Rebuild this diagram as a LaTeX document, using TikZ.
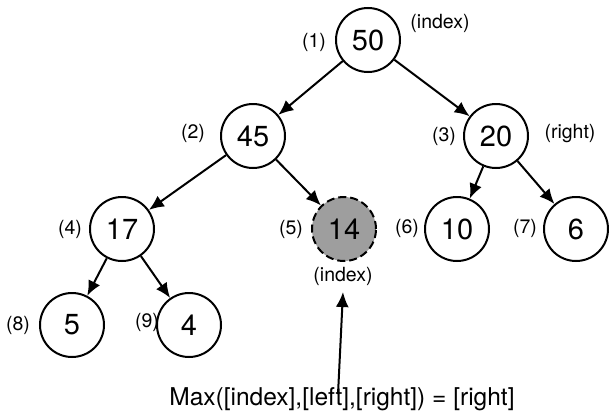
\documentclass[tikz,border=0pt]{standalone}
\usepackage{fontspec}
\setmainfont{TeX Gyre Heros}
\usetikzlibrary{arrows.meta}
\definecolor{nodegray}{RGB}{158,158,158}
\tikzset{
  heapnode/.style={circle, draw=black, line width=2pt, minimum size=64pt, inner sep=0pt, font=\fontsize{29}{31}\selectfont},
  hilite/.style={heapnode, fill=nodegray, dash pattern=on 8pt off 4pt},
  idx/.style={inner sep=0pt, font=\fontsize{19.5}{21}\selectfont},
  edge/.style={line width=2pt, -{Latex[length=15pt,width=13pt]}},
  caption/.style={inner sep=0pt, font=\fontsize{24.5}{27}\selectfont}
}
\begin{document}
\begin{tikzpicture}[x=1pt,y=-1pt]
\useasboundingbox (0,0) rectangle (609,415);
\node[heapnode] (n50) at (368,40) {50};
\node[heapnode] (n45) at (253,136) {45};
\node[heapnode] (n20) at (496,136) {20};
\node[heapnode] (n17) at (122,229) {17};
\node[hilite] (n14) at (344,229) {14};
\node[heapnode] (n10) at (457,229) {10};
\node[heapnode] (n6) at (576,229) {6};
\node[heapnode] (n5) at (72,325) {5};
\node[heapnode] (n4) at (189,325) {4};

\node[idx] (l1) at (314,42) {(1)};
\node[idx] (li1) at (440,23) {(index)};
\node[idx] (l2) at (193,133) {(2)};
\node[idx] (l3) at (444,136) {(3)};
\node[idx] (lr) at (570,134) {(right)};
\node[idx] (l4) at (70,229) {(4)};
\node[idx] (l5) at (291,229) {(5)};
\node[idx] (l6) at (407,228) {(6)};
\node[idx] (l7) at (525,228) {(7)};
\node[idx] (l8) at (18,325) {(8)};
\node[idx] (l9) at (147,322) {(9)};
\node[idx] (li5) at (343,276) {(index)};

\draw[edge] (n50) -- (n45);
\draw[edge] (n50) -- (n20);
\draw[edge] (n45) -- (n17);
\draw[edge] (n45) -- (n14);
\draw[edge] (n20) -- (n10);
\draw[edge] (n20) -- (n6);
\draw[edge] (n17) -- (n5);
\draw[edge] (n17) -- (n4);

\node[caption] (cap) at (342,399) {Max([index],[left],[right]) = [right]};
\coordinate (atip) at (343,292);
\draw[edge] ([xshift=-4pt]cap.north) ++(0,-7pt) coordinate (abase) -- (atip);
\end{tikzpicture}
\end{document}
